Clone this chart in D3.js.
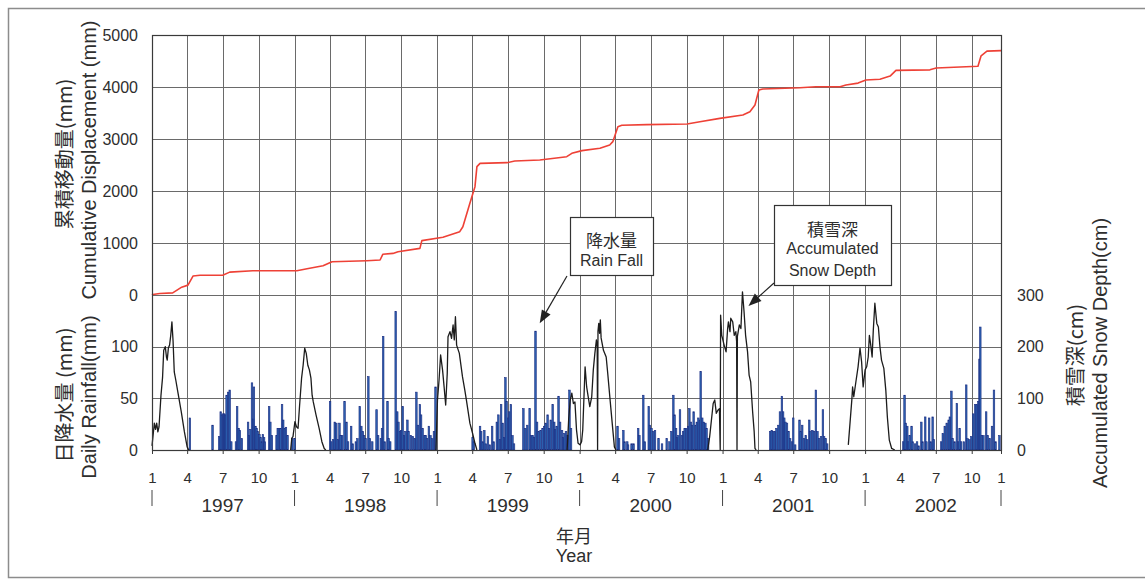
<!DOCTYPE html>
<html>
<head>
<meta charset="utf-8">
<script src="https://cdn.jsdelivr.net/npm/d3@7"></script>
<style>
  body { margin: 0; background: #fff; }
  svg { display: block; }
  text { font-family: "Liberation Sans", Arial, sans-serif; fill: #2e2e2e; }
  .jp { font-family: "Noto Sans CJK JP", "Liberation Sans", sans-serif; }
</style>
</head>
<body>
<svg id="chart" width="1145" height="581"></svg>
<script>
// ---- data -------------------------------------------------------------

// Cumulative displacement (mm)
const displacement = [
  ["1997-01-01",0],["1997-01-03",10],["1997-01-21",30],["1997-02-23",40],["1997-03-18",150],
  ["1997-04-03",190],["1997-04-16",365],["1997-05-04",380],["1997-07-01",380],["1997-07-19",440],
  ["1997-09-16",467],["1998-01-07",467],["1998-02-02",505],["1998-03-15",563],["1998-04-07",640],
  ["1998-07-05",660],["1998-08-08",673],["1998-08-15",783],["1998-09-10",800],["1998-09-23",833],
  ["1998-11-18",897],["1998-11-23",1045],["1999-01-16",1110],["1999-02-28",1218],["1999-03-08",1313],
  ["1999-03-26",1765],["1999-04-08",2083],["1999-04-13",2468],["1999-04-21",2532],["1999-06-29",2545],
  ["1999-07-19",2577],["1999-09-21",2596],["1999-11-29",2660],["1999-12-12",2725],["2000-01-07",2776],
  ["2000-02-22",2821],["2000-03-18",2885],["2000-03-26",2949],["2000-04-08",3237],["2000-04-18",3263],
  ["2000-06-21",3276],["2000-10-02",3288],["2000-11-04",3333],["2000-12-25",3397],["2001-02-22",3461],
  ["2001-03-12",3525],["2001-03-25",3654],["2001-04-04",3942],["2001-04-14",3962],["2001-07-18",3987],
  ["2001-08-28",4005],["2001-10-29",4005],["2001-11-13",4040],["2001-12-14",4075],["2002-01-03",4135],
  ["2002-02-08",4150],["2002-03-06",4210],["2002-03-21",4320],["2002-06-16",4330],["2002-07-02",4365],
  ["2002-09-01",4385],["2002-10-17",4400],["2002-10-25",4600],["2002-11-09",4690],["2002-12-15",4700]
];

// Accumulated snow depth (cm)
const snowDepth = [
  ["1997-01-01",8],["1997-01-04",30],["1997-01-07",52],["1997-01-10",40],["1997-01-13",52],
  ["1997-01-16",35],["1997-01-19",45],["1997-01-24",106],["1997-01-28",140],["1997-01-31",193],
  ["1997-02-04",200],["1997-02-07",180],["1997-02-09",174],["1997-02-12",198],["1997-02-15",203],
  ["1997-02-18",222],["1997-02-21",248],["1997-02-24",210],["1997-02-27",151],["1997-03-03",135],
  ["1997-03-08",113],["1997-03-17",74],["1997-03-25",35],["1997-04-01",6],["1997-04-05",0],

  ["1997-12-22",0],["1997-12-25",23],["1997-12-28",26],["1998-01-02",55],["1998-01-06",45],
  ["1998-01-10",42],["1998-01-14",87],["1998-01-19",139],["1998-01-23",164],["1998-01-27",197],
  ["1998-01-31",187],["1998-02-04",164],["1998-02-08",155],["1998-02-12",139],["1998-02-15",106],
  ["1998-02-18",93],["1998-02-25",68],["1998-03-05",42],["1998-03-12",16],["1998-03-18",3],
  ["1998-03-22",0],

  ["1998-12-29",0],["1999-01-02",97],["1999-01-06",135],["1999-01-10",184],["1999-01-15",155],
  ["1999-01-19",122],["1999-01-23",87],["1999-01-27",148],["1999-01-29",219],["1999-02-03",229],
  ["1999-02-07",216],["1999-02-11",242],["1999-02-14",213],["1999-02-17",258],["1999-02-20",203],
  ["1999-02-27",187],["1999-03-07",142],["1999-03-13",116],["1999-03-17",97],["1999-03-26",52],
  ["1999-04-02",32],["1999-04-08",13],["1999-04-13",0],

  ["1999-11-30",0],["1999-12-04",60],["1999-12-08",97],["1999-12-12",110],["1999-12-16",90],
  ["1999-12-20",93],["1999-12-24",39],["1999-12-28",13],["2000-01-02",10],["2000-01-06",16],
  ["2000-01-09",39],["2000-01-15",161],["2000-01-19",122],["2000-01-23",103],["2000-01-27",84],
  ["2000-02-01",103],["2000-02-05",155],["2000-02-09",187],["2000-02-13",213],["2000-02-15",200],
  ["2000-02-16",0],["2000-02-17",230],["2000-02-19",245],["2000-02-21",226],["2000-02-23",252],
  ["2000-02-25",217],["2000-03-02",193],["2000-03-09",180],["2000-03-13",148],["2000-03-19",97],
  ["2000-03-26",39],["2000-03-30",6],["2000-04-03",0],

  ["2000-11-24",0],["2000-11-29",26],["2000-12-08",90],["2000-12-12",97],["2000-12-16",71],
  ["2000-12-20",77],["2000-12-24",80],["2000-12-26",0],["2000-12-27",261],["2000-12-30",222],
  ["2001-01-05",203],["2001-01-10",190],["2001-01-14",235],["2001-01-16",248],["2001-01-20",229],
  ["2001-01-22",255],["2001-01-27",248],["2001-01-31",222],["2001-02-04",229],["2001-02-06",210],
  ["2001-02-07",0],["2001-02-08",220],["2001-02-13",242],["2001-02-17",235],["2001-02-21",306],
  ["2001-02-25",268],["2001-03-01",222],["2001-03-06",190],["2001-03-10",145],["2001-03-14",132],
  ["2001-03-19",74],["2001-03-23",35],["2001-03-25",3],["2001-03-28",0],

  ["2001-11-19",10],["2001-11-28",97],["2001-11-30",122],["2001-12-03",103],["2001-12-09",135],
  ["2001-12-14",161],["2001-12-19",197],["2001-12-23",171],["2001-12-27",122],["2002-01-01",155],
  ["2002-01-05",161],["2002-01-09",180],["2002-01-12",222],["2002-01-15",206],["2002-01-19",180],
  ["2002-01-22",232],["2002-01-26",284],["2002-01-31",245],["2002-02-04",238],["2002-02-08",200],
  ["2002-02-12",174],["2002-02-18",158],["2002-02-23",116],["2002-02-27",64],["2002-03-04",19],
  ["2002-03-10",3],["2002-03-18",0]
];

// Daily rainfall (mm), by year
const rain1997 = [
  ["1997-04-06",31],["1997-06-03",24],["1997-06-20",13],["1997-06-24",37],["1997-06-27",34],
  ["1997-06-30",35],["1997-07-03",35],["1997-07-06",34],["1997-07-09",53],["1997-07-13",56],
  ["1997-07-17",58],["1997-07-21",8],["1997-08-02",8],["1997-08-05",42],["1997-08-09",21],
  ["1997-08-12",19],["1997-08-17",11],["1997-09-02",27],["1997-09-05",14],["1997-09-08",20],
  ["1997-09-12",65],["1997-09-15",30],["1997-09-17",61],["1997-09-21",23],["1997-09-24",21],
  ["1997-09-27",18],["1997-10-01",15],["1997-10-04",12],["1997-10-07",8],["1997-10-10",15],
  ["1997-10-13",12],["1997-10-15",8],["1997-10-26",42],["1997-10-29",27],["1997-11-02",14],
  ["1997-11-14",14],["1997-11-17",21],["1997-11-20",21],["1997-11-24",21],["1997-11-28",44],
  ["1997-12-01",29],["1997-12-05",21],["1997-12-08",22],["1997-12-12",14],["1997-12-24",11],
  ["1997-12-30",11]
];
const rain1998 = [
  ["1998-03-31",47],["1998-04-03",8],["1998-04-08",10],["1998-04-12",27],["1998-04-16",26],
  ["1998-04-20",10],["1998-04-24",26],["1998-04-27",14],["1998-05-01",14],["1998-05-07",47],
  ["1998-05-12",27],["1998-05-16",8],["1998-05-24",23],["1998-05-28",6],["1998-06-05",8],
  ["1998-06-09",11],["1998-06-15",42],["1998-06-19",23],["1998-06-23",18],["1998-06-26",14],
  ["1998-06-30",11],["1998-07-07",71],["1998-07-11",11],["1998-07-17",8],["1998-07-28",39],
  ["1998-08-01",14],["1998-08-08",11],["1998-08-11",21],["1998-08-14",110],["1998-08-18",8],
  ["1998-08-25",47],["1998-08-28",11],["1998-09-01",8],["1998-09-15",134],["1998-09-19",37],
  ["1998-09-22",27],["1998-09-26",18],["1998-09-29",19],["1998-10-03",42],["1998-10-07",14],
  ["1998-10-10",18],["1998-10-15",29],["1998-10-18",18],["1998-10-24",14],["1998-10-29",13],
  ["1998-11-03",11],["1998-11-07",56],["1998-11-11",24],["1998-11-16",44],["1998-11-19",34],
  ["1998-11-23",21],["1998-11-28",14],["1998-12-01",14],["1998-12-04",11],["1998-12-09",23],
  ["1998-12-13",14],["1998-12-18",11],["1998-12-22",18],["1998-12-26",61]
];
const rain1999 = [
  ["1999-03-31",12],["1999-04-03",8],["1999-04-19",23],["1999-04-22",18],["1999-04-26",8],
  ["1999-04-30",19],["1999-05-04",6],["1999-05-09",13],["1999-05-14",5],["1999-05-20",23],
  ["1999-05-24",8],["1999-06-01",27],["1999-06-05",34],["1999-06-09",10],["1999-06-12",44],
  ["1999-06-16",26],["1999-06-20",12],["1999-06-23",70],["1999-06-26",47],["1999-06-30",31],
  ["1999-07-03",37],["1999-07-07",44],["1999-07-11",14],["1999-07-15",6],["1999-08-08",40],
  ["1999-08-13",21],["1999-08-18",24],["1999-08-24",40],["1999-08-28",14],["1999-09-01",14],
  ["1999-09-04",12],["1999-09-08",115],["1999-09-12",27],["1999-09-16",18],["1999-09-21",19],
  ["1999-09-26",21],["1999-09-30",23],["1999-10-04",26],["1999-10-09",34],["1999-10-13",21],
  ["1999-10-17",29],["1999-10-22",44],["1999-10-26",27],["1999-10-29",20],["1999-11-01",23],
  ["1999-11-06",52],["1999-11-10",27],["1999-11-15",19],["1999-11-18",12],["1999-11-21",16],
  ["1999-11-25",18],["1999-11-29",14],["1999-12-04",58],["1999-12-08",21]
];
const rain2000 = [
  ["2000-04-05",23],["2000-04-09",11],["2000-04-20",19],["2000-04-23",8],["2000-04-30",8],
  ["2000-05-02",5],["2000-05-11",6],["2000-05-16",6],["2000-05-28",21],["2000-05-31",14],
  ["2000-06-10",53],["2000-06-14",8],["2000-06-24",42],["2000-06-27",24],["2000-07-01",21],
  ["2000-07-06",18],["2000-07-10",19],["2000-07-19",11],["2000-07-28",6],["2000-08-09",11],
  ["2000-08-16",8],["2000-08-21",18],["2000-08-26",53],["2000-08-29",34],["2000-09-02",21],
  ["2000-09-05",12],["2000-09-08",14],["2000-09-12",39],["2000-09-17",14],["2000-09-20",18],
  ["2000-09-24",21],["2000-09-28",21],["2000-10-03",23],["2000-10-06",40],["2000-10-10",27],
  ["2000-10-13",24],["2000-10-17",37],["2000-10-22",24],["2000-10-25",27],["2000-10-29",31],
  ["2000-11-02",29],["2000-11-04",76],["2000-11-08",31],["2000-11-12",27],["2000-11-16",26],
  ["2000-11-19",21],["2000-11-23",11]
];
const rain2001 = [
  ["2001-05-01",18],["2001-05-05",19],["2001-05-09",18],["2001-05-13",18],["2001-05-17",21],
  ["2001-05-22",24],["2001-05-26",37],["2001-05-31",52],["2001-06-03",37],["2001-06-06",31],
  ["2001-06-09",27],["2001-06-13",26],["2001-06-17",18],["2001-06-21",11],["2001-06-26",8],
  ["2001-06-29",31],["2001-07-04",5],["2001-07-15",29],["2001-07-18",18],["2001-07-22",24],
  ["2001-07-27",11],["2001-07-31",14],["2001-08-04",10],["2001-08-09",29],["2001-08-12",18],
  ["2001-08-17",19],["2001-08-21",18],["2001-08-26",58],["2001-08-30",18],["2001-09-03",11],
  ["2001-09-08",13],["2001-09-13",39],["2001-09-16",13],["2001-09-20",11],["2001-09-24",6]
];
const rain2002 = [
  ["2002-04-07",8],["2002-04-10",53],["2002-04-13",26],["2002-04-17",23],["2002-04-20",8],
  ["2002-04-23",14],["2002-04-28",23],["2002-05-01",8],["2002-05-07",6],["2002-05-12",8],
  ["2002-05-16",4],["2002-05-23",27],["2002-05-26",8],["2002-06-02",32],["2002-06-05",8],
  ["2002-06-12",31],["2002-06-16",8],["2002-06-21",32],["2002-06-24",10],["2002-07-13",8],
  ["2002-07-17",16],["2002-07-22",23],["2002-07-27",26],["2002-08-01",29],["2002-08-04",32],
  ["2002-08-08",57],["2002-08-11",11],["2002-08-16",8],["2002-08-22",45],["2002-08-26",8],
  ["2002-08-29",21],["2002-09-02",8],["2002-09-09",8],["2002-09-15",63],["2002-09-18",11],
  ["2002-09-23",10],["2002-09-28",13],["2002-10-03",35],["2002-10-08",44],["2002-10-12",44],
  ["2002-10-16",47],["2002-10-19",88],["2002-10-21",119],["2002-10-25",14],["2002-10-29",14],
  ["2002-11-05",37],["2002-11-09",14],["2002-11-14",11],["2002-11-20",23],["2002-11-25",58],
  ["2002-11-29",8],["2002-12-09",14]
];

// Axis ticks and labels
const axisStart = "1997-01-01";
const axisEnd = "2002-12-15";
const dispTicks = [0, 1000, 2000, 3000, 4000, 5000];
const rainTicks = [0, 50, 100];
const snowTicks = [0, 100, 200, 300];
const yearLabels = ["1997", "1998", "1999", "2000", "2001", "2002"];

// ---- layout & scales -------------------------------------------------
const parse = d3.timeParse("%Y-%m-%d");
const L = 152, R = 1001, T = 35, M = 295, B = 450;

const x = d3.scaleTime().domain([parse(axisStart), parse(axisEnd)]).range([L, R]);
const yDisp = d3.scaleLinear().domain([0, 5000]).range([M, T]);
const yRain = d3.scaleLinear().domain([0, 150]).range([B, M]);
const ySnow = d3.scaleLinear().domain([0, 300]).range([B, M]);

const svg = d3.select("#chart");

// outer frame of the figure
svg.append("rect")
  .attr("x", 8.5).attr("y", 8.5).attr("width", 1150).attr("height", 569)
  .attr("fill", "#fff").attr("stroke", "#8c8c8c").attr("stroke-width", 1.5);

// ---- grid ------------------------------------------------------------
const quarters = d3.timeMonth.every(3).range(parse(axisStart), parse(axisEnd));
const grid = svg.append("g").attr("stroke", "#6a6a6a").attr("stroke-width", 1);

grid.selectAll("line.v").data(quarters.slice(1)).join("line")
  .attr("x1", d => Math.round(x(d)) + 0.5).attr("x2", d => Math.round(x(d)) + 0.5)
  .attr("y1", T).attr("y2", B);

const hLines = dispTicks.slice(0, -1).map(v => yDisp(v))
  .concat(rainTicks.slice(1).map(v => yRain(v)));
grid.selectAll("line.h").data(hLines).join("line")
  .attr("x1", L).attr("x2", R)
  .attr("y1", d => Math.round(d) + 0.5).attr("y2", d => Math.round(d) + 0.5);

// ---- rainfall bars ---------------------------------------------------
const rain = [].concat(rain1997, rain1998, rain1999, rain2000, rain2001, rain2002)
  .map(([d, v]) => ({ date: parse(d), value: v }));

svg.append("g").selectAll("rect").data(rain).join("rect")
  .attr("x", d => x(d.date))
  .attr("width", d => Math.max(1.2, x(d3.timeDay.offset(d.date, 4)) - x(d.date)))
  .attr("y", d => yRain(d.value))
  .attr("height", d => yRain(0) - yRain(d.value))
  .attr("fill", "#2d62b0")
  .attr("stroke", "#1b2c82")
  .attr("stroke-width", 0.6);

// ---- snow depth line (one path per winter) ---------------------------
const snowPts = snowDepth.map(([d, v]) => ({ date: parse(d), value: v }));
const seasons = [];
snowPts.forEach((p, i) => {
  if (i === 0 || p.date - snowPts[i - 1].date > 30 * 864e5) seasons.push([]);
  seasons[seasons.length - 1].push(p);
});
const snowLine = d3.line().x(d => x(d.date)).y(d => ySnow(d.value));
svg.append("g").selectAll("path").data(seasons).join("path")
  .attr("d", snowLine)
  .attr("fill", "none").attr("stroke", "#1c1c1c").attr("stroke-width", 1.3)
  .attr("stroke-linejoin", "round");

// ---- cumulative displacement line ------------------------------------
const dispPts = displacement.map(([d, v]) => ({ date: parse(d), value: v }));
svg.append("path")
  .datum(dispPts)
  .attr("d", d3.line().x(d => x(d.date)).y(d => yDisp(d.value)))
  .attr("fill", "none").attr("stroke", "#ee4136").attr("stroke-width", 1.6)
  .attr("stroke-linejoin", "round");

// plot border
svg.append("rect")
  .attr("x", L + 0.5).attr("y", T + 0.5).attr("width", R - L).attr("height", B - T)
  .attr("fill", "none").attr("stroke", "#3a3a3a").attr("stroke-width", 1.2);

// ---- axes ------------------------------------------------------------
function styleAxis(g, size) {
  g.select(".domain").remove();
  g.selectAll("text").attr("fill", "#2e2e2e").style("font-size", size + "px")
    .style("font-family", '"Liberation Sans", Arial, sans-serif');
}

svg.append("g").attr("transform", `translate(${L},0)`)
  .call(d3.axisLeft(yDisp).tickValues(dispTicks).tickSize(0).tickPadding(14).tickFormat(d3.format("d")))
  .call(g => styleAxis(g, 16));

svg.append("g").attr("transform", `translate(${L},0)`)
  .call(d3.axisLeft(yRain).tickValues(rainTicks).tickSize(0).tickPadding(14).tickFormat(d3.format("d")))
  .call(g => styleAxis(g, 16));

svg.append("g").attr("transform", `translate(${R},0)`)
  .call(d3.axisRight(ySnow).tickValues(snowTicks).tickSize(0).tickPadding(16).tickFormat(d3.format("d")))
  .call(g => styleAxis(g, 16));

const tickDates = quarters.concat([parse(axisEnd)]);
svg.append("g").attr("transform", `translate(0,${B})`)
  .call(d3.axisBottom(x).tickValues(tickDates).tickSize(4).tickPadding(18)
    .tickFormat((d, i) => i === tickDates.length - 1 ? "1" : String(d.getMonth() + 1)))
  .call(g => styleAxis(g, 15))
  .call(g => g.selectAll("line").attr("stroke", "#3a3a3a"));

// year separators and labels
const yearStarts = yearLabels.map(y => parse(y + "-01-01")).concat([parse(axisEnd)]);
svg.append("g").selectAll("line").data(yearStarts).join("line")
  .attr("x1", d => x(d)).attr("x2", d => x(d))
  .attr("y1", 490).attr("y2", 506)
  .attr("stroke", "#444").attr("stroke-width", 1);

svg.append("g").selectAll("text").data(yearLabels).join("text")
  .attr("x", d => x(parse(d + "-07-01")))
  .attr("y", 512)
  .attr("text-anchor", "middle")
  .style("font-size", "19px")
  .text(d => d);

// ---- axis titles -----------------------------------------------------
function vTitle(text, cx, cy, size, cls) {
  svg.append("text")
    .attr("class", cls || null)
    .attr("transform", `translate(${cx},${cy}) rotate(-90)`)
    .attr("text-anchor", "middle")
    .attr("dominant-baseline", "central")
    .style("font-size", size + "px")
    .text(text);
}
vTitle("累積移動量(mm)", 63, 154, 20, "jp");
vTitle("Cumulative Displacement (mm)", 89, 160, 20);
vTitle("日降水量 (mm)", 63, 395, 20, "jp");
vTitle("Daily Rainfall(mm)", 89, 397, 20);
vTitle("積雪深(cm)", 1074, 355, 20, "jp");
vTitle("Accumulated Snow Depth(cm)", 1100, 353, 20);

svg.append("text").attr("class", "jp").attr("x", 574).attr("y", 543)
  .attr("text-anchor", "middle").style("font-size", "18px").text("年月");
svg.append("text").attr("x", 574).attr("y", 562)
  .attr("text-anchor", "middle").style("font-size", "18px").text("Year");

// ---- callouts --------------------------------------------------------
function arrow(x1, y1, x2, y2) {
  const g = svg.append("g");
  const ang = Math.atan2(y2 - y1, x2 - x1), len = 13, hw = 5;
  const bx = x2 - len * Math.cos(ang), by = y2 - len * Math.sin(ang);
  g.append("line").attr("x1", x1).attr("y1", y1).attr("x2", bx).attr("y2", by)
    .attr("stroke", "#222").attr("stroke-width", 1.2);
  g.append("path")
    .attr("d", `M${x2},${y2}L${bx + hw * Math.sin(ang)},${by - hw * Math.cos(ang)}L${bx - hw * Math.sin(ang)},${by + hw * Math.cos(ang)}Z`)
    .attr("fill", "#222");
}
function callout(bx, by, bw, bh, lines) {
  const g = svg.append("g");
  g.append("rect").attr("x", bx + 0.5).attr("y", by + 0.5).attr("width", bw).attr("height", bh)
    .attr("fill", "#fff").attr("stroke", "#333").attr("stroke-width", 1.2);
  lines.forEach(l => {
    g.append("text").attr("class", l.jp ? "jp" : null)
      .attr("x", bx + bw / 2).attr("y", l.y)
      .attr("text-anchor", "middle").attr("dominant-baseline", "central")
      .style("font-size", (l.jp ? 17 : 16) + "px").text(l.t);
  });
}

// rainfall spike of 1999-09-08
const rainPeak = rain.find(d => +d.date === +parse("1999-09-08"));
arrow(567, 276, x(rainPeak.date) + 5, yRain(rainPeak.value) - 8);
callout(570, 217, 83, 58, [{ t: "降水量", y: 239, jp: true }, { t: "Rain Fall", y: 260 }]);

// snow depth peak of 2001
const snowPeak = snowPts.find(d => +d.date === +parse("2001-02-21"));
arrow(774, 283, x(snowPeak.date) + 6, ySnow(snowPeak.value) + 14);
callout(774, 205, 117, 80, [{ t: "積雪深", y: 228, jp: true }, { t: "Accumulated", y: 248.5 }, { t: "Snow Depth", y: 270 }]);
</script>
</body>
</html>
